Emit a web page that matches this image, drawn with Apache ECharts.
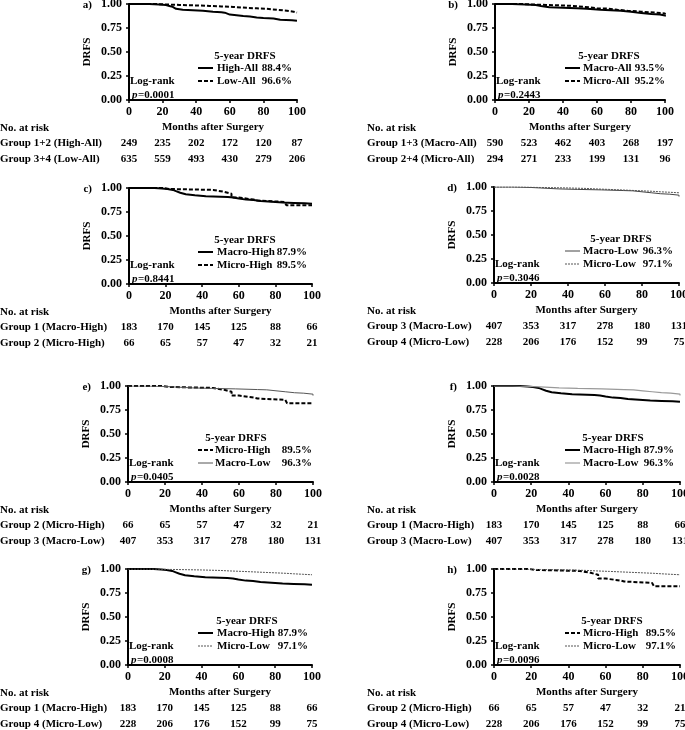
<!DOCTYPE html>
<html>
<head>
<meta charset="utf-8">
<script src="https://cdn.jsdelivr.net/npm/echarts@6/dist/echarts.min.js"></script>
<style>
  html, body { margin: 0; background: #fff; }
  #chart { width: 685px; height: 730px; }
</style>
</head>
<body>
<div id="chart"></div>
<script>
// step curves: month of each step and DRFS from that month on
const highAllT = [0, 12, 18, 22, 24, 26, 28, 32, 38, 44, 50, 55, 57, 60, 64, 68, 72, 76, 80, 86, 90, 97, 100]
const highAllS = [1, 0.995, 0.99, 0.98, 0.97, 0.95, 0.94, 0.935, 0.93, 0.92, 0.915, 0.91, 0.89, 0.884, 0.875, 0.87, 0.86, 0.855, 0.85, 0.835, 0.83, 0.825, 0.82]
const lowAllT = [0, 15, 22, 30, 40, 48, 55, 62, 70, 76, 82, 88, 94, 98, 100]
const lowAllS = [1, 0.995, 0.99, 0.985, 0.98, 0.975, 0.97, 0.96, 0.955, 0.95, 0.94, 0.93, 0.92, 0.91, 0.91]
const macroAllT = [0, 10, 18, 24, 27, 32, 40, 48, 54, 58, 62, 68, 74, 80, 86, 92, 97, 100]
const macroAllS = [1, 0.995, 0.99, 0.98, 0.965, 0.96, 0.955, 0.95, 0.945, 0.94, 0.935, 0.93, 0.92, 0.905, 0.895, 0.89, 0.88, 0.87]
const microAllT = [0, 16, 22, 30, 40, 46, 52, 56, 60, 66, 72, 78, 86, 95, 100]
const microAllS = [1, 0.995, 0.99, 0.985, 0.98, 0.97, 0.965, 0.955, 0.952, 0.94, 0.93, 0.92, 0.91, 0.9, 0.89]
const macroHighT = [0, 14, 18, 21, 24, 26, 28, 31, 36, 42, 50, 54, 57, 60, 64, 68, 72, 76, 80, 84, 90, 96, 100]
const macroHighS = [1, 0.995, 0.99, 0.98, 0.965, 0.95, 0.935, 0.925, 0.915, 0.91, 0.905, 0.9, 0.89, 0.879, 0.875, 0.865, 0.86, 0.855, 0.85, 0.845, 0.84, 0.835, 0.83]
const microHighT = [0, 19, 22, 46, 52, 56, 60, 62, 68, 70, 85, 86, 100]
const microHighS = [1, 0.99, 0.98, 0.96, 0.94, 0.9, 0.895, 0.88, 0.87, 0.855, 0.85, 0.82, 0.82]
const macroLowT = [0, 10, 20, 25, 35, 45, 58, 70, 75, 80, 85, 90, 95, 100]
const macroLowS = [1, 0.995, 0.99, 0.98, 0.975, 0.97, 0.963, 0.96, 0.95, 0.94, 0.93, 0.925, 0.915, 0.9]
const microLowT = [0, 15, 25, 40, 50, 55, 62, 68, 74, 80, 86, 90, 95, 100]
const microLowS = [1, 0.995, 0.99, 0.985, 0.98, 0.975, 0.97, 0.965, 0.96, 0.955, 0.95, 0.945, 0.94, 0.935]

const xTicks = [0, 20, 40, 60, 80, 100]

// number at risk at each x tick
const riskHighAll = [249, 235, 202, 172, 120, 87]
const riskLowAll = [635, 559, 493, 430, 279, 206]
const riskMacroAll = [590, 523, 462, 403, 268, 197]
const riskMicroAll = [294, 271, 233, 199, 131, 96]
const riskMacroHigh = [183, 170, 145, 125, 88, 66]
const riskMicroHigh = [66, 65, 57, 47, 32, 21]
const riskMacroLow = [407, 353, 317, 278, 180, 131]
const riskMicroLow = [228, 206, 176, 152, 99, 75]

const font = 'Liberation Serif'
const thick = { color: '#000', width: 2, type: 'solid' }
const thickDash = { color: '#000', width: 2, type: [4, 2] }
const thinDot = { color: '#555', width: 1, type: [2, 1] }
const thinDark = { color: '#444', width: 1, type: 'solid' }
const thinMid = { color: '#555', width: 1, type: 'solid' }
const thinGray = { color: '#999', width: 1.2, type: 'solid' }

const curve = (t, s) => t.map((m, i) => [m, s[i]])

const panels = [
  { tag: 'a)', box: [129, 4, 168], leg: [198, 217, 292, 245], p: '0.0001',
    lines: [[highAllT, highAllS, thick, 'High-All', '88.4%', 'Group 1+2 (High-All)', riskHighAll],
            [lowAllT, lowAllS, thickDash, 'Low-All', '96.6%', 'Group 3+4 (Low-All)', riskLowAll]] },
  { tag: 'b)', box: [495, 4, 170], leg: [565, 583, 665, 609], p: '0.2443',
    lines: [[macroAllT, macroAllS, thick, 'Macro-All', '93.5%', 'Group 1+3 (Macro-All)', riskMacroAll],
            [microAllT, microAllS, thickDash, 'Micro-All', '95.2%', 'Group 2+4 (Micro-All)', riskMicroAll]] },
  { tag: 'c)', box: [129, 188, 183], leg: [198, 217, 307, 245], p: '0.8441',
    lines: [[macroHighT, macroHighS, thick, 'Macro-High', '87.9%', 'Group 1 (Macro-High)', riskMacroHigh],
            [microHighT, microHighS, thickDash, 'Micro-High', '89.5%', 'Group 2 (Micro-High)', riskMicroHigh]] },
  { tag: 'd)', box: [494, 187, 185], leg: [565, 583, 673, 621], p: '0.3046',
    lines: [[macroLowT, macroLowS, thinDark, 'Macro-Low', '96.3%', 'Group 3 (Macro-Low)', riskMacroLow],
            [microLowT, microLowS, thinDot, 'Micro-Low', '97.1%', 'Group 4 (Micro-Low)', riskMicroLow]] },
  { tag: 'e)', box: [128, 386, 185], leg: [198, 215, 312, 236], p: '0.0405',
    lines: [[microHighT, microHighS, thickDash, 'Micro-High', '89.5%', 'Group 2 (Micro-High)', riskMicroHigh],
            [macroLowT, macroLowS, thinMid, 'Macro-Low', '96.3%', 'Group 3 (Macro-Low)', riskMacroLow]] },
  { tag: 'f)', box: [494, 386, 186], leg: [565, 583, 674, 613], p: '0.0028',
    lines: [[macroHighT, macroHighS, thick, 'Macro-High', '87.9%', 'Group 1 (Macro-High)', riskMacroHigh],
            [macroLowT, macroLowS, thinGray, 'Macro-Low', '96.3%', 'Group 3 (Macro-Low)', riskMacroLow]] },
  { tag: 'g)', box: [128, 569, 184], leg: [198, 217, 308, 247], p: '0.0008',
    lines: [[macroHighT, macroHighS, thick, 'Macro-High', '87.9%', 'Group 1 (Macro-High)', riskMacroHigh],
            [microLowT, microLowS, thinDot, 'Micro-Low', '97.1%', 'Group 4 (Micro-Low)', riskMicroLow]] },
  { tag: 'h)', box: [494, 569, 186], leg: [565, 583, 676, 612], p: '0.0096',
    lines: [[microHighT, microHighS, thickDash, 'Micro-High', '89.5%', 'Group 2 (Micro-High)', riskMicroHigh],
            [microLowT, microLowS, thinDot, 'Micro-Low', '97.1%', 'Group 4 (Micro-Low)', riskMicroLow]] }
]

const H = 96
const grid = [], xAxis = [], yAxis = [], series = [], graphic = []

const txt = (x, y, text, opt = {}) => ({
  type: 'text', silent: true,
  style: {
    x, y, text, fill: '#000',
    font: (opt.italic ? 'italic ' : '') + 'bold ' + (opt.size || 11) + 'px "' + font + '"',
    textAlign: opt.align || 'left', textVerticalAlign: 'middle'
  }
})

panels.forEach((pn, i) => {
  const [left, top, width] = pn.box
  const tableX = left < 300 ? 0 : 367
  grid.push({ left, top, width, height: H, outerBoundsMode: 'none', containLabel: false })

  xAxis.push({
    gridIndex: i, type: 'value', position: 'bottom', min: 0, max: 100, interval: 20, offset: 1,
    name: 'Months after Surgery', nameLocation: 'middle', nameGap: 21,
    nameTextStyle: { fontFamily: font, fontWeight: 'bold', fontSize: 11, color: '#000' },
    axisLine: { lineStyle: { color: '#000', width: 2 } },
    axisTick: { length: 3, lineStyle: { color: '#000', width: 1.5 } },
    axisLabel: { margin: 5, fontFamily: font, fontWeight: 'bold', fontSize: 12, color: '#000' },
    splitLine: { show: false }
  })
  pn.lines.forEach((ln, k) => {
    const risk = ln[6]
    xAxis.push({
      gridIndex: i, type: 'value', position: 'bottom', min: 0, max: 100, interval: 20, offset: k ? 59 : 43,
      axisLine: { show: false }, axisTick: { show: false }, splitLine: { show: false },
      axisLabel: {
        margin: 0, verticalAlign: 'middle', fontFamily: font, fontWeight: 'bold', fontSize: 11, color: '#000',
        formatter: (v) => String(risk[xTicks.indexOf(v)])
      }
    })
    graphic.push(txt(tableX, top + H + (k ? 59 : 43), ln[5]))
  })

  yAxis.push({
    gridIndex: i, type: 'value', position: 'left', min: 0, max: 1, interval: 0.25, offset: 2,
    name: 'DRFS', nameLocation: 'middle', nameGap: 34,
    nameTextStyle: { fontFamily: font, fontWeight: 'bold', fontSize: 11, color: '#000' },
    axisLine: { show: true, lineStyle: { color: '#000', width: 2 } },
    axisTick: { show: true, length: 3, lineStyle: { color: '#000', width: 1.5 } },
    axisLabel: { margin: 5, fontFamily: font, fontWeight: 'bold', fontSize: 12, color: '#000',
      formatter: (v) => v.toFixed(2) },
    splitLine: { show: false }
  })

  pn.lines.forEach((ln) => {
    series.push({
      type: 'line', step: 'end', showSymbol: false, silent: true,
      xAxisIndex: 3 * i, yAxisIndex: i,
      data: curve(ln[0], ln[1]), lineStyle: ln[2]
    })
  })

  const [lx, labX, pctR, titleX] = pn.leg
  graphic.push(txt(left - 37, top + 1, pn.tag, { align: 'right' }))
  graphic.push(txt(titleX, top + 52, '5-year DRFS', { align: 'center' }))
  pn.lines.forEach((ln, k) => {
    const y = top + 64 + 13 * k
    const ls = ln[2]
    graphic.push({
      type: 'line', silent: true,
      shape: { x1: lx, y1: y, x2: lx + 15, y2: y },
      style: { stroke: ls.color, lineWidth: ls.width, lineDash: ls.type === 'solid' ? null : ls.type }
    })
    graphic.push(txt(labX, y, ln[3]))
    graphic.push(txt(pctR, y, ln[4], { align: 'right' }))
  })
  graphic.push(txt(left + 1, top + 77, 'Log-rank'))
  graphic.push(txt(left + 3, top + 91, 'p', { italic: true }))
  graphic.push(txt(left + 9, top + 91, '=' + pn.p))
  graphic.push(txt(tableX, top + H + 28, 'No. at risk'))
})

const chart = echarts.init(document.getElementById('chart'))
chart.setOption({
  animation: false,
  backgroundColor: '#fff',
  grid, xAxis, yAxis, series, graphic
})
</script>
</body>
</html>
